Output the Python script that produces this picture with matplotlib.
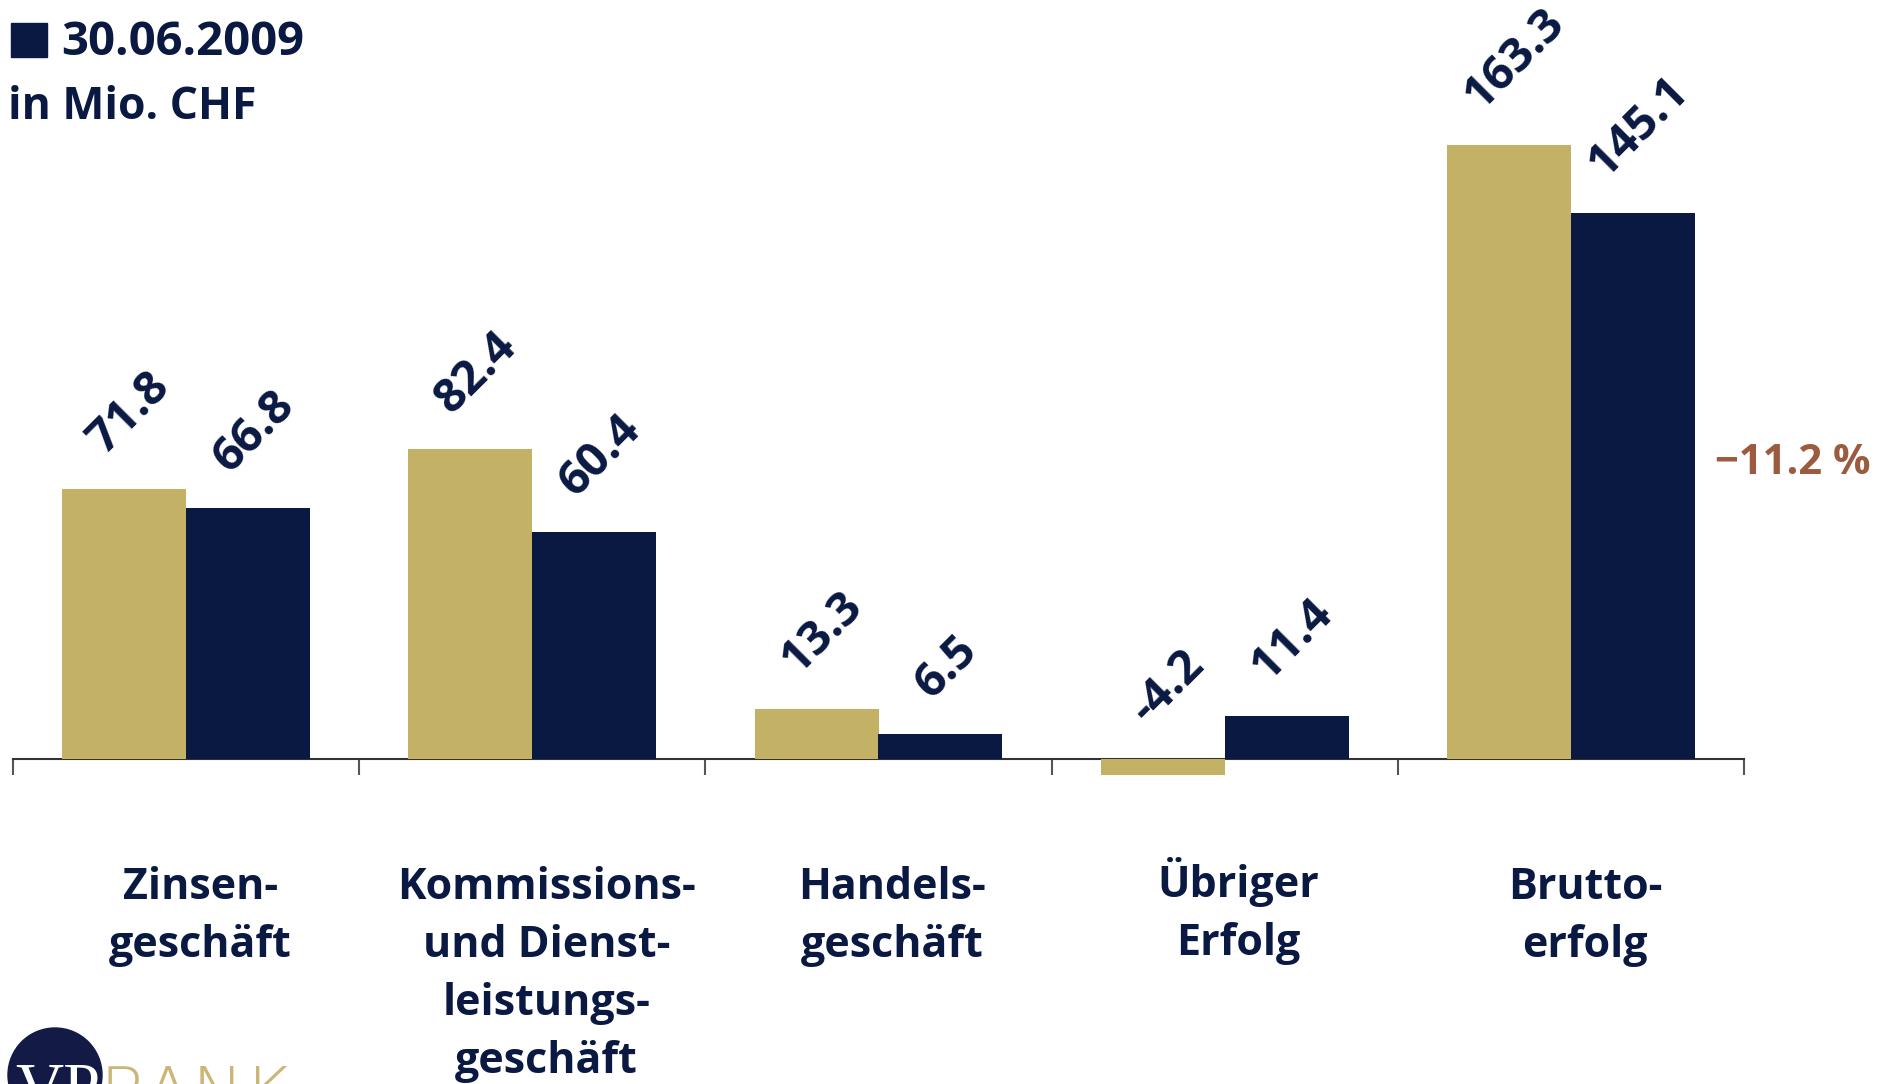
import numpy as np
import matplotlib
matplotlib.use("Agg")
import matplotlib.pyplot as plt
from matplotlib.patches import Rectangle, Ellipse
from matplotlib.transforms import ScaledTranslation

plt.rcParams['font.family'] = ['Open Sans', 'DejaVu Sans']

# data (Mio. CHF)
categories = ['Zinsen-\ngeschäft', 'Kommissions-\nund Dienst-\nleistungs-\ngeschäft',
              'Handels-\ngeschäft', 'Übriger\nErfolg', 'Brutto-\nerfolg']
values_2008 = [71.8, 82.4, 13.3, -4.2, 163.3]
values_2009 = [66.8, 60.4, 6.5, 11.4, 145.1]
legend_label = '30.06.2009'
unit_label = 'in Mio. CHF'
change_label = '\u221211.2 %'

GOLD = '#c3b165'
NAVY = '#0a1942'
BROWN = '#9c5a3e'

W, H = 1890, 1084
fig = plt.figure(figsize=(W / 100, H / 100), dpi=100)
ax = fig.add_axes([13 / W, 250 / H, 1731 / W, 827 / H])

x = np.arange(len(categories))
bw = 0.358
b1 = ax.bar(x - bw / 2, values_2008, bw, color=GOLD, zorder=3)
b2 = ax.bar(x + bw / 2, values_2009, bw, color=NAVY, zorder=3)

for bars, vals in [(b1, values_2008), (b2, values_2009)]:
    for rect, v in zip(bars, vals):
        ax.annotate(f'{v:.1f}', xy=(rect.get_x() + rect.get_width() / 2, max(v, 0)),
                    xytext=(4, 19), textcoords='offset points', rotation=45,
                    ha='center', va='bottom', fontsize=34, fontweight='bold',
                    color=NAVY, annotation_clip=False)

ax.set_xlim(-0.5, len(categories) - 0.5)
ax.set_ylim(-20, 200)
for s in ['top', 'right', 'left']:
    ax.spines[s].set_visible(False)
ax.spines['bottom'].set_position(('data', 0))
ax.spines['bottom'].set_color('#333333')
ax.spines['bottom'].set_linewidth(1.5)
ax.set_yticks([])

# boundary ticks (major) and category labels (minor)
ax.set_xticks(np.arange(-0.5, len(categories), 1.0))
ax.set_xticklabels([])
ax.tick_params(axis='x', which='major', direction='out', length=11.5, width=1.5, color='#555555')
ax.set_xticks(x, minor=True)
ax.set_xticklabels(categories, minor=True, fontsize=31, fontweight='bold', color=NAVY,
                   linespacing=1.46)
ax.tick_params(axis='x', which='minor', length=0, pad=77)
for lab in ax.get_xticklabels(minor=True):
    # umlaut capitals make the first line taller, so lift those labels a bit
    dy = 9 if lab.get_text()[0] in 'ÄÖÜ' else 0
    lab.set_transform(lab.get_transform() + ScaledTranslation(14 / 100, dy / 100, fig.dpi_scale_trans))

# legend / unit
fig.add_artist(Rectangle((11 / W, 1 - 57 / H), 36 / W, 34 / H, transform=fig.transFigure,
                         color=NAVY))
fig.text(61 / W, 1 - 55 / H, legend_label, fontsize=34, fontweight='bold', color=NAVY,
         va='baseline', ha='left')
fig.text(8 / W, 1 - 119 / H, unit_label, fontsize=32, fontweight='bold', color=NAVY,
         va='baseline', ha='left')

# change label
fig.text(1715 / W, 1 - 463 / H, change_label, fontsize=30, fontweight='bold', color=BROWN,
         va='center', ha='left')

# logo (cut at the bottom edge)
fig.add_artist(Ellipse((55 / W, 9 / H), 94 / W, 94 / H, transform=fig.transFigure,
                       color='#121a45'))
fig.text(15 / W, -25 / H, 'VP', fontsize=48, color='white', family='Liberation Serif',
         va='baseline', ha='left')
fig.text(100 / W, -33 / H, 'BANK', fontsize=50, color='#cbb577', family='DejaVu Sans',
         fontweight='light', va='baseline', ha='left')

fig.savefig('out.png', dpi=100)
